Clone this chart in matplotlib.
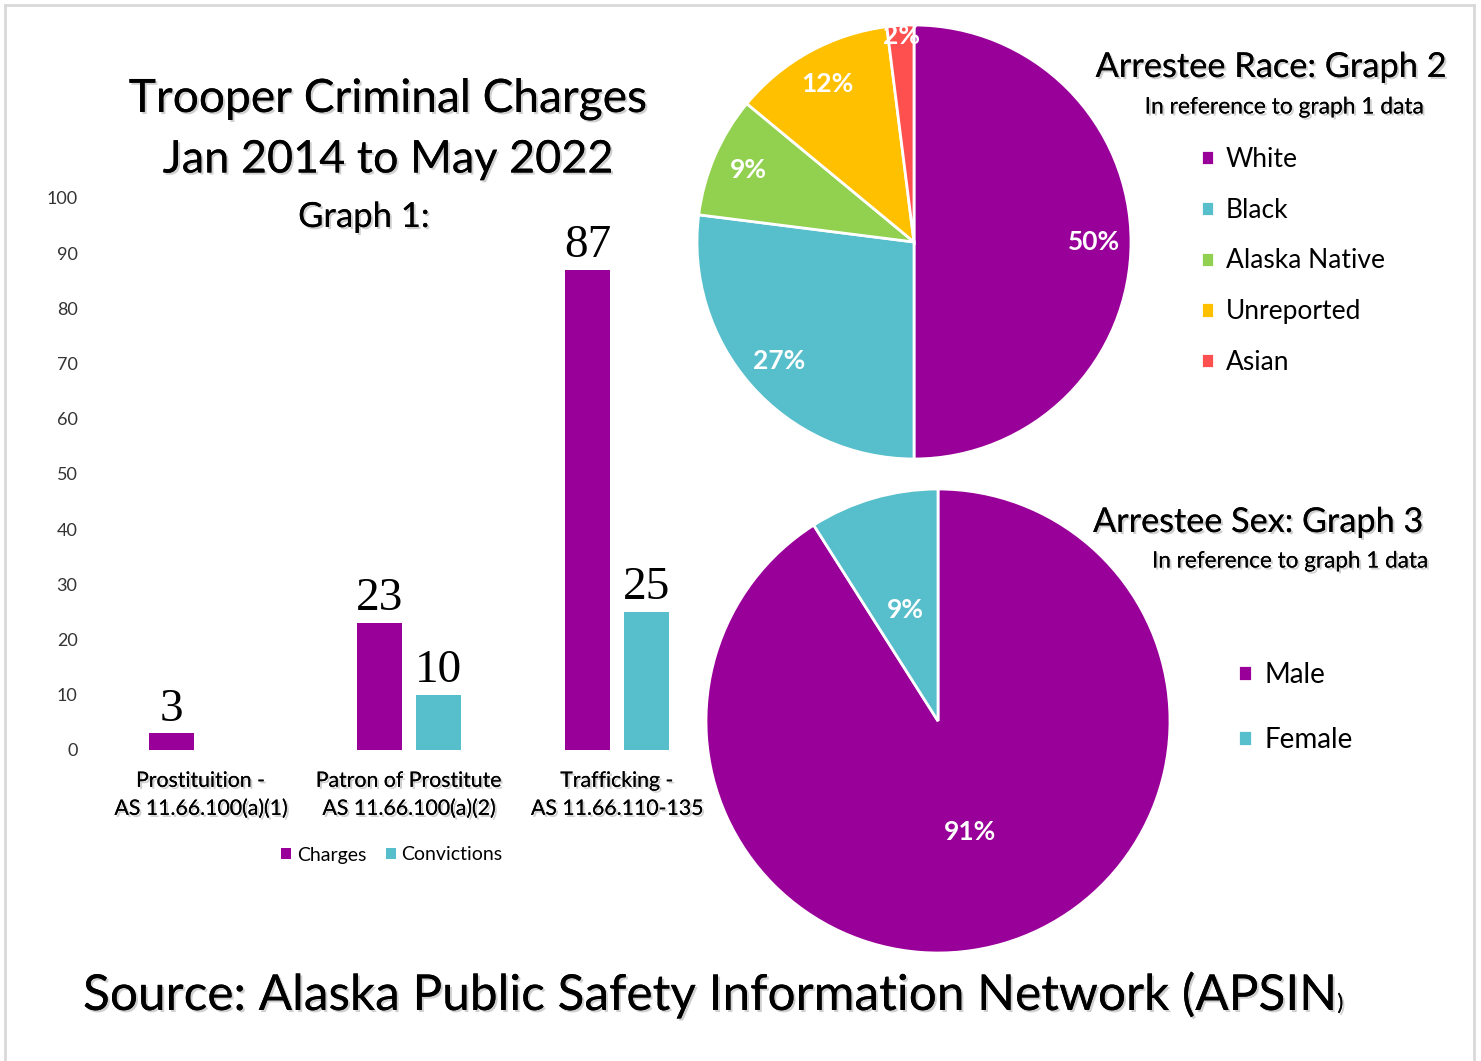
import numpy as np
import matplotlib.pyplot as plt
import matplotlib.patheffects as pe
from matplotlib.lines import Line2D

plt.rcParams['font.family'] = ['Lato', 'DejaVu Sans']
plt.rcParams['text.color'] = 'black'

# Graph 1: charges / convictions
categories = ['Prostituition -\nAS 11.66.100(a)(1)',
              'Patron of Prostitute\nAS 11.66.100(a)(2)',
              'Trafficking -\nAS 11.66.110-135']
charges = [3, 23, 87]
convictions = [np.nan, 10, 25]

# Graph 2: arrestee race (%)
race = ['White', 'Black', 'Alaska Native', 'Unreported', 'Asian']
race_pct = [50, 27, 9, 12, 2]

# Graph 3: arrestee sex (%)
sex = ['Male', 'Female']
sex_pct = [91, 9]

# Colors
purple = '#990099'
teal = '#57BECB'
race_colors = [purple, teal, '#92D050', '#FFC000', '#FF5050']
sex_colors = [purple, teal]

shadow = [pe.withSimplePatchShadow(offset=(1.5, -1.5), shadow_rgbFace='#777777', alpha=0.35), pe.Normal()]

W, H = 1481, 1061
fig = plt.figure(figsize=(W / 100, H / 100), dpi=100)
fig.patch.set_facecolor('white')


def box(left, top, right, bottom):
    # pixel box -> figure fraction
    return [left / W, 1 - bottom / H, (right - left) / W, (bottom - top) / H]


def fit(t, width_px):
    r = fig.canvas.get_renderer()
    w = t.get_window_extent(r).width
    t.set_fontsize(t.get_fontsize() * width_px / w)


# ---- Graph 1: bars ----
ax = fig.add_axes(box(97, 198, 721, 750))
x = np.arange(len(categories))
bw = 0.22
b1 = ax.bar(x - 0.142, charges, bw, color=purple, label='Charges')
b2 = ax.bar(x + 0.142, convictions, bw, color=teal, label='Convictions')
ax.bar_label(b1, padding=2, fontsize=34, family='Liberation Serif')
ax.bar_label(b2, labels=['' if np.isnan(v) else f'{v:g}' for v in convictions],
             padding=2, fontsize=34, family='Liberation Serif')

ax.set_xlim(-0.5, 2.5)
ax.set_ylim(0, 100)
ax.set_yticks(range(0, 101, 10))
ax.set_xticks(x, categories, fontsize=15.3, linespacing=1.5)
for lbl in ax.get_xticklabels():
    lbl.set_path_effects(shadow)
ax.tick_params(axis='y', length=0, pad=14, labelsize=13, labelcolor='#333333')
ax.tick_params(axis='x', length=0, pad=15)
for s in ax.spines.values():
    s.set_visible(False)

fig.legend(handles=[b1, b2], loc='center', bbox_to_anchor=(392 / W, 1 - 855 / H), ncol=2,
           frameon=False, fontsize=14, handlelength=0.5, handleheight=0.5,
           handletextpad=0.3, columnspacing=1.0, borderpad=0)

t1 = fig.text(388 / W, 1 - 99 / H, 'Trooper Criminal Charges', ha='center', va='center',
              fontsize=31, path_effects=shadow)
t2 = fig.text(388 / W, 1 - 160 / H, 'Jan 2014 to May 2022', ha='center', va='center',
              fontsize=31, path_effects=shadow)
t3 = fig.text(364 / W, 1 - 217 / H, 'Graph 1:', ha='center', va='center',
              fontsize=22, path_effects=shadow)
fit(t1, 516)
fit(t2, 449)
fit(t3, 131)

# ---- Graph 2: race pie ----
ax2 = fig.add_axes(box(697, 25, 1131, 459))
w2, _, a2 = ax2.pie(race_pct, colors=race_colors, startangle=90, counterclock=False,
                    autopct=lambda p: f'{p:.0f}%', pctdistance=0.83,
                    wedgeprops=dict(edgecolor='white', linewidth=2),
                    textprops=dict(color='white', fontsize=19, fontweight='bold'))
px, py = a2[4].get_position()
a2[4].set_position((px * 0.95 / 0.83, py * 0.95 / 0.83))
ax2.set_xlim(-1, 1)
ax2.set_ylim(-1, 1)
for wd in w2:
    wd.set_clip_on(False)

r1 = fig.text(1271 / W, 1 - 67 / H, 'Arrestee Race: Graph 2', ha='center', va='center',
              fontsize=23, path_effects=shadow)
r2 = fig.text(1285 / W, 1 - 107 / H, 'In reference to graph 1 data', ha='center', va='center',
              fontsize=14, path_effects=shadow)
fit(r1, 352)
fit(r2, 280)
fig.legend(w2, race, loc='center left', bbox_to_anchor=(1201 / W, 1 - 261 / H),
           frameon=False, fontsize=19, handlelength=0.5, handleheight=0.5,
           handletextpad=0.45, labelspacing=0.98, borderpad=0, borderaxespad=0)

# ---- Graph 3: sex pie ----
ax3 = fig.add_axes(box(706, 489, 1170, 953))
w3, _, a3 = ax3.pie(sex_pct, colors=sex_colors, startangle=90, counterclock=False,
                    autopct=lambda p: f'{p:.0f}%', pctdistance=0.5,
                    wedgeprops=dict(edgecolor='white', linewidth=2),
                    textprops=dict(color='white', fontsize=19, fontweight='bold'))
ax3.set_xlim(-1, 1)
ax3.set_ylim(-1, 1)
for wd in w3:
    wd.set_clip_on(False)

s1 = fig.text(1258 / W, 1 - 522 / H, 'Arrestee Sex: Graph 3', ha='center', va='center',
              fontsize=23, path_effects=shadow)
s2 = fig.text(1290 / W, 1 - 561 / H, 'In reference to graph 1 data', ha='center', va='center',
              fontsize=14, path_effects=shadow)
fit(s1, 331)
fit(s2, 277)
fig.legend(w3, sex, loc='center left', bbox_to_anchor=(1238 / W, 1 - 707.5 / H),
           frameon=False, fontsize=20, handlelength=0.5, handleheight=0.5,
           handletextpad=0.45, labelspacing=1.42, borderpad=0, borderaxespad=0)

# ---- Source line ----
src = fig.text(83 / W, 1 - 1010 / H, 'Source: Alaska Public Safety Information Network (APSIN',
               ha='left', va='baseline', fontsize=32, path_effects=shadow)
fit(src, 1257)
ext = src.get_window_extent(fig.canvas.get_renderer())
fig.text((ext.x1 + 2) / W, 1 - 1010 / H, ')', ha='left', va='baseline', fontsize=16,
         path_effects=shadow)

# light frame (left, top, right)
frame = dict(transform=fig.transFigure, color='#d9d9d9', lw=2)
fig.add_artist(Line2D([5 / W, 5 / W], [0, 1 - 5 / H], **frame))
fig.add_artist(Line2D([5 / W, 1474 / W], [1 - 5 / H, 1 - 5 / H], **frame))
fig.add_artist(Line2D([1474 / W, 1474 / W], [0, 1 - 5 / H], **frame))

fig.savefig('out.png', dpi=100)
